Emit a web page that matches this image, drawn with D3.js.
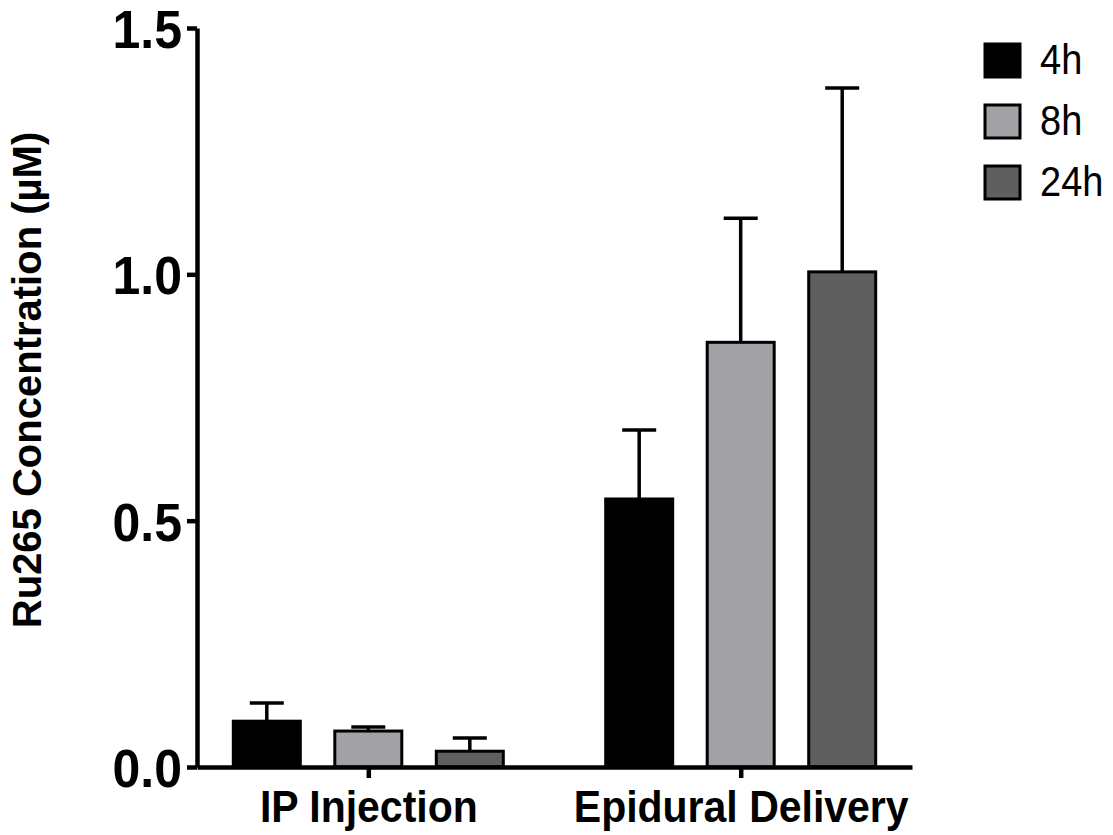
<!DOCTYPE html>
<html>
<head>
<meta charset="utf-8">
<script src="https://cdn.jsdelivr.net/npm/d3@7"></script>
<style>
  body { margin: 0; background: #fff; }
  svg { display: block; font-family: "Liberation Sans", Arial, sans-serif; }
</style>
</head>
<body>
<svg id="chart" width="1113" height="835"></svg>
<script>
// data
var groups = ["IP Injection", "Epidural Delivery"];
var series = ["4h", "8h", "24h"];
var mean4h  = [0.093, 0.544];
var mean8h  = [0.073, 0.862];
var mean24h = [0.032, 1.005];
var err4h  = [0.037, 0.140];
var err8h  = [0.008, 0.252];
var err24h = [0.027, 0.373];
var yTicks = [0, 0.5, 1.0, 1.5];

var means = { "4h": mean4h, "8h": mean8h, "24h": mean24h };
var errs  = { "4h": err4h,  "8h": err8h,  "24h": err24h };
var fills = { "4h": "#000000", "8h": "#a2a1a6", "24h": "#5f5f5f" };

var svg = d3.select("#chart");

var y = d3.scaleLinear().domain([0, 1.5]).range([767, 28]);
var x0 = d3.scalePoint().domain(groups).range([197, 912]).padding(0.46);
var x1 = d3.scaleBand().domain(series).range([-135, 135]).paddingInner(0.34);

var rows = [];
groups.forEach(function(g, i) {
  series.forEach(function(s) {
    rows.push({ group: g, key: s, value: means[s][i], err: errs[s][i] });
  });
});

// bars
svg.append("g").selectAll("rect")
  .data(rows)
  .enter().append("rect")
    .attr("x", function(d) { return x0(d.group) + x1(d.key); })
    .attr("y", function(d) { return y(d.value); })
    .attr("width", x1.bandwidth())
    .attr("height", function(d) { return y(0) - y(d.value); })
    .attr("fill", function(d) { return fills[d.key]; })
    .attr("stroke", "#000")
    .attr("stroke-width", 3);

// error bars (upper only)
var eb = svg.append("g").attr("stroke", "#000").attr("stroke-width", 3.5);
eb.selectAll("line.v")
  .data(rows)
  .enter().append("line")
    .attr("class", "v")
    .attr("x1", function(d) { return x0(d.group) + x1(d.key) + x1.bandwidth() / 2; })
    .attr("x2", function(d) { return x0(d.group) + x1(d.key) + x1.bandwidth() / 2; })
    .attr("y1", function(d) { return y(d.value); })
    .attr("y2", function(d) { return y(d.value + d.err); });
eb.selectAll("line.cap")
  .data(rows)
  .enter().append("line")
    .attr("class", "cap")
    .attr("x1", function(d) { return x0(d.group) + x1(d.key) + x1.bandwidth() / 2 - 17; })
    .attr("x2", function(d) { return x0(d.group) + x1(d.key) + x1.bandwidth() / 2 + 17; })
    .attr("y1", function(d) { return y(d.value + d.err); })
    .attr("y2", function(d) { return y(d.value + d.err); });

// y axis
var yAxis = d3.axisLeft(y).tickValues(yTicks).tickFormat(d3.format(".1f"))
  .tickSize(10).tickSizeOuter(0).tickPadding(5);
var ga = svg.append("g").attr("transform", "translate(197,0)").call(yAxis);
ga.select(".domain").attr("stroke-width", 4.5);
ga.selectAll(".tick line").attr("stroke-width", 4.5);
ga.selectAll(".tick text")
  .attr("font-size", 50).attr("font-weight", "bold").attr("fill", "#000")
  .attr("font-family", "Liberation Sans, Arial, sans-serif")
  .attr("dy", "0.34em")
  .attr("transform", "translate(0,1) scale(1,1.08)");

// x axis
var xAxis = d3.axisBottom(x0).tickSize(11).tickSizeOuter(0);
var gx = svg.append("g").attr("transform", "translate(0,767)").call(xAxis);
gx.select(".domain").attr("stroke-width", 4.5);
gx.selectAll(".tick line").attr("stroke-width", 4.5);
gx.selectAll(".tick text")
  .attr("y", 0).attr("dy", 0)
  .attr("font-size", 41).attr("font-weight", "bold").attr("fill", "#000")
  .attr("font-family", "Liberation Sans, Arial, sans-serif")
  .attr("transform", "translate(0,55) scale(1,1.1)");

// y label
svg.append("text")
  .attr("transform", "translate(41,380) rotate(-90)")
  .attr("text-anchor", "middle")
  .attr("font-size", 40).attr("font-weight", "bold")
  .text("Ru265 Concentration (\u00b5M)");

// legend
var lg = svg.append("g").selectAll("g")
  .data(series)
  .enter().append("g")
    .attr("transform", function(d, i) { return "translate(985," + (44 + i * 61) + ")"; });
lg.append("rect")
  .attr("width", 35).attr("height", 33)
  .attr("fill", function(d) { return fills[d]; })
  .attr("stroke", "#000").attr("stroke-width", 3);
lg.append("text")
  .attr("transform", "translate(55,30) scale(1,1.1)")
  .attr("font-size", 38)
  .text(function(d) { return d; });
</script>
</body>
</html>
